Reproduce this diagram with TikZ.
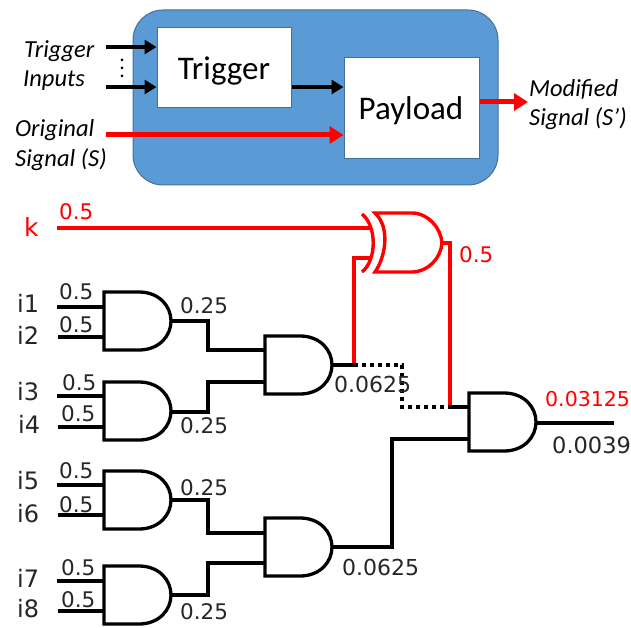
\documentclass[tikz,border=0pt]{standalone}
\usepackage{fontspec}
\setmainfont{DejaVu Sans}
\newfontfamily\calib{Carlito}
\usetikzlibrary{arrows.meta}
\definecolor{boxblue}{RGB}{91,155,213}
\definecolor{boxedge}{RGB}{65,113,156}
\definecolor{lab}{RGB}{38,38,38}
\tikzset{
  wire/.style={line width=3.1pt,line join=miter},
  redwire/.style={wire,red},
  gateline/.style={line width=3.3pt,line join=miter},
  arrowblk/.style={line width=3.6pt,-{Triangle[length=12pt,width=14pt]}},
  arrowred/.style={line width=5pt,red,-{Triangle[length=14pt,width=17pt]}},
  val/.style={font=\fontsize{21.5}{24}\selectfont,text=lab,inner sep=0pt},
  redval/.style={val,text=red},
  inp/.style={font=\fontsize{24}{26}\selectfont,text=lab,inner sep=0pt},
  italic/.style={font=\calib\itshape\fontsize{24.5}{27}\selectfont,inner sep=0pt,text=black},
  block/.style={draw=boxedge,line width=1pt,fill=white,inner sep=0pt},
  blocktext/.style={font=\calib\fontsize{33}{36}\selectfont},
}
\newcommand{\andgatepic}[3]{% name, left x, mid y
  \draw[gateline,fill=white] (#2,#3-29) -- (#2+35,#3-29)
     .. controls (#2+55,#3-29) and (#2+67,#3-15) .. (#2+67,#3)
     .. controls (#2+67,#3+15) and (#2+55,#3+29) .. (#2+35,#3+29)
     -- (#2,#3+29) -- cycle;
  \coordinate (#1-a) at (#2,#3-15);
  \coordinate (#1-b) at (#2,#3+16);
  \coordinate (#1-o) at (#2+67,#3);
}
\begin{document}
\begin{tikzpicture}[x=1pt,y=-1pt]
\useasboundingbox (0,0) rectangle (631,628);
% upper block diagram
\node[draw=boxedge,line width=1pt,fill=boxblue,rounded corners=30pt,minimum width=365pt,minimum height=175pt,inner sep=0pt] (core) at (315.5,97.5) {};
\node[block,minimum width=134pt,minimum height=80pt] (trig) at (224,68) {};
\node[block,minimum width=135pt,minimum height=101pt] (pay) at (411.5,108.5) {};
\node[blocktext] (trigt) at (224,71) {Trigger};
\node[blocktext] (payt) at (411,111) {Payload};
\coordinate (t1) at (106,47);
\coordinate (t2) at (106,87);
\coordinate (s0) at (106,135);
\coordinate (m0) at (528,102);
\draw[arrowblk] (t1) -- (t1 -| trig.west);
\draw[arrowblk] (t2) -- (t2 -| trig.west);
\draw[arrowblk] (t2 -| trig.east) -- (t2 -| pay.west);
\draw[arrowred] (s0) -- (s0 -| pay.west);
\draw[arrowred] (m0 -| pay.east) -- (m0);
\node[italic,anchor=west] (ltrig) at (24,51) {Trigger};
\node[italic,anchor=west] (linp) at (23,81) {Inputs};
\node[italic,anchor=west] (lorig) at (15,130) {Original};
\node[italic,anchor=west] (lsig) at (15,160) {Signal (S)};
\node[italic,anchor=west] (lmod) at (529,89) {Modified};
\node[italic,anchor=west] (lmsig) at (529,119) {Signal (S’)};
\foreach \n/\yy in {d1/60,d2/68,d3/76}
  \fill (122,\yy) circle (1.5pt);
% gates
\andgatepic{g1}{104}{321}
\andgatepic{g2}{104}{411}
\andgatepic{g3}{104}{500}
\andgatepic{g4}{104}{595}
\andgatepic{g5}{265}{365}
\andgatepic{g6}{265}{547}
\andgatepic{g7}{469}{422}
% xor
\draw[redwire,line width=3.4pt,line join=miter] (375,213) -- (412,213)
   .. controls (428,213) and (441,228) .. (442,243)
   .. controls (441,258) and (428,272) .. (412,272)
   -- (375,272) .. controls (385,258) and (391,228) .. (375,213) -- cycle;
\draw[redwire,line width=3.4pt] (362,214) .. controls (377,226) and (377,260) .. (362,272);
\coordinate (xa) at (372,228);
\coordinate (xb) at (372,258);
\coordinate (xo) at (442,243);
% inputs
\coordinate (k0) at (57,228);
\draw[redwire] (k0) -- (xa);
\coordinate (tap) at (354,365);
\coordinate (rj) at (450,407);
\draw[redwire] (xb) -| (tap);
\draw[redwire] (xo) -- (450,243) -- (rj);
\foreach \g/\x/\yy in {g1-a/57/307,g1-b/58/337,g2-a/57/396,g2-b/58/427,g3-a/57/485,g3-b/58/515,g4-a/57/581,g4-b/58/611}
  \draw[wire] (\x,\yy) -- (104,\yy);
% wiring
\draw[wire] (g1-o) -- (208,321) -- (208,350) -- (265,350);
\draw[wire] (171,412) -- (208,412) -- (208,382) -- (265,382);
\draw[wire] (g3-o) -- (208,500) -- (208,533) -- (265,533);
\draw[wire] (g4-o) -- (208,595) -- (208,563) -- (265,563);
\draw[wire] (g5-o) -- (tap);
\draw[wire,line cap=butt,dash pattern=on 4pt off 4pt] (tap) -- (402,365) -- (402,407) -- (rj);
\draw[wire] (rj) -- (469,407);
\draw[wire] (g6-o) -- (392,547) -- (392,439) -- (469,439);
\draw[wire] (537,423) -- (614,423);
% labels
\node[redval,anchor=west,font=\fontsize{25}{27}\selectfont] (lk) at (24,227) {k};
\node[redval,anchor=west] (l05k) at (59,212) {0.5};
\node[redval,anchor=west] (l05x) at (459,255) {0.5};
\node[redval,anchor=west,font=\fontsize{20.5}{23}\selectfont] (lred) at (545,399) {0.03125};
\node[val,anchor=west,font=\fontsize{22.5}{25}\selectfont] (lfin) at (552,445) {0.0039};
\foreach \n/\t/\x/\yy in {a/i1/17/303,b/i2/17/335,c/i3/17/392,d/i4/18/424,e/i5/17/481,f/i6/17/514,h/i7/17/578,j/i8/17/609}
  \node[inp,anchor=west] (li\n) at (\x,\yy) {\t};
\foreach \n/\x/\yy in {a/59/292,b/59/325,c/62/383,d/61/414,e/59/471,f/59/505,h/61/568,j/61/600}
  \node[val,anchor=west] (lh\n) at (\x,\yy) {0.5};
\foreach \n/\x/\yy in {a/180/306,b/180/426,c/180/488,d/180/612}
  \node[val,anchor=west] (lq\n) at (\x,\yy) {0.25};
\node[val,anchor=west,font=\fontsize{22}{24}\selectfont] (l1) at (334,384) {0.0625};
\node[val,anchor=west,font=\fontsize{22}{24}\selectfont] (l2) at (342,567) {0.0625};
\end{tikzpicture}
\end{document}
